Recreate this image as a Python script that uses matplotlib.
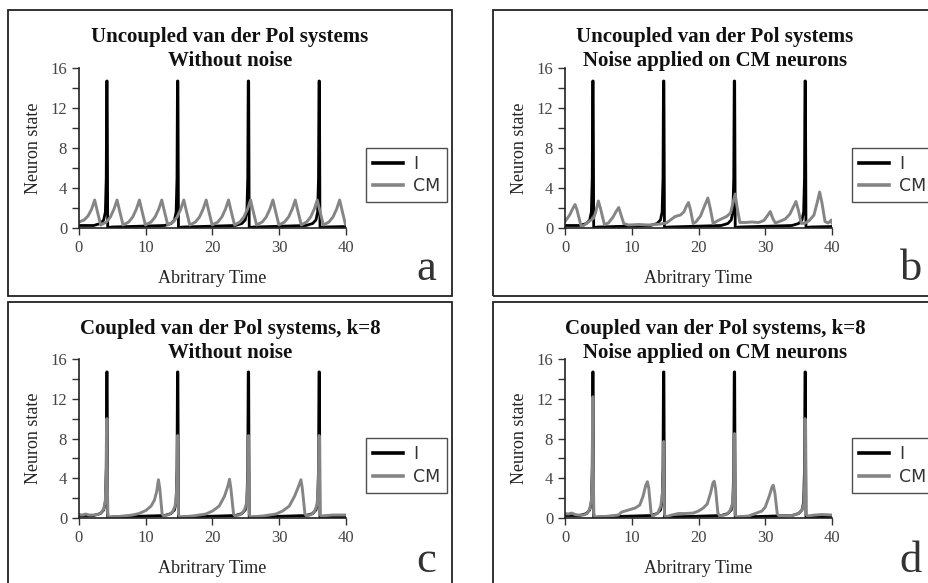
import matplotlib
matplotlib.use("Agg")
import matplotlib.pyplot as plt
from matplotlib.patches import Rectangle

# ---- data ----
# I neuron (same in every panel)
i_t = [0.0, 2.2, 3.2, 3.7, 3.95, 4.08, 4.15, 4.22, 4.3, 5.0,
       12.8, 13.8, 14.3, 14.55, 14.68, 14.75, 14.82, 14.9, 15.6,
       23.4, 24.4, 24.9, 25.15, 25.28, 25.35, 25.42, 25.5, 26.2,
       34.0, 35.0, 35.5, 35.75, 35.88, 35.95, 36.02, 36.1, 36.8, 40.0]
i_y = [0.25, 0.25, 0.45, 0.8, 1.6, 5.0, 14.7, 14.7, 0.05, 0.1,
       0.25, 0.45, 0.8, 1.6, 5.0, 14.7, 14.7, 0.05, 0.1,
       0.25, 0.45, 0.8, 1.6, 5.0, 14.7, 14.7, 0.05, 0.1,
       0.25, 0.45, 0.8, 1.6, 5.0, 14.7, 14.7, 0.05, 0.1, 0.15]

# CM, uncoupled, no noise
cm_a_t = [0.0, 0.75, 1.35, 1.9, 2.35, 2.7, 3.25,
          4.1, 4.7, 5.25, 5.7, 6.05, 6.6,
          7.45, 8.05, 8.6, 9.05, 9.4, 9.95,
          10.8, 11.4, 11.95, 12.4, 12.75, 13.3,
          14.1, 14.7, 15.25, 15.7, 16.05, 16.6,
          17.45, 18.05, 18.6, 19.05, 19.4, 19.95,
          20.8, 21.4, 21.95, 22.4, 22.75, 23.3,
          24.1, 24.7, 25.25, 25.7, 26.05, 26.6,
          27.45, 28.05, 28.6, 29.05, 29.4, 29.95,
          30.8, 31.4, 31.95, 32.4, 32.75, 33.3,
          34.1, 34.7, 35.25, 35.7, 36.05, 36.6,
          37.45, 38.05, 38.6, 39.05, 39.4, 39.9]
cm_a_y = [0.6, 0.8, 1.2, 1.9, 2.8, 1.8, 0.3,
          0.6, 1.1, 1.9, 2.8, 1.8, 0.3,
          0.6, 1.1, 1.9, 2.8, 1.8, 0.3,
          0.6, 1.1, 1.9, 2.8, 1.8, 0.3,
          0.6, 1.1, 1.9, 2.8, 1.8, 0.3,
          0.6, 1.1, 1.9, 2.8, 1.8, 0.3,
          0.6, 1.1, 1.9, 2.8, 1.8, 0.3,
          0.6, 1.1, 1.9, 2.8, 1.8, 0.3,
          0.6, 1.1, 1.9, 2.8, 1.8, 0.3,
          0.6, 1.1, 1.9, 2.8, 1.8, 0.3,
          0.6, 1.1, 1.9, 2.8, 1.8, 0.3,
          0.6, 1.1, 1.9, 2.8, 1.8, 0.4]

# CM, uncoupled, with noise
cm_b_t = [0.0, 0.7, 1.2, 1.5, 1.8, 2.4, 2.8, 3.3, 3.9, 4.3, 4.6, 5.0, 5.3, 5.9,
          6.5, 7.2, 7.7, 8.05, 8.35, 8.8, 9.5, 11.0, 12.5, 13.5, 14.3, 15.2,
          15.8, 16.5, 17.3, 17.8, 18.2, 18.5, 18.8, 19.2, 19.6, 20.3, 20.9,
          21.4, 21.75, 22.2, 22.8, 23.4, 24.2, 24.8, 25.2, 25.5, 25.8, 26.2,
          27.0, 28.0, 29.0, 29.8, 30.4, 30.75, 31.1, 31.5, 32.3, 33.0, 33.7,
          34.2, 34.6, 34.95, 35.4, 36.0, 36.6, 37.3, 37.8, 38.15, 38.5, 38.95,
          39.4, 39.7, 39.9, 40.0]
cm_b_y = [0.65, 1.3, 2.0, 2.35, 1.8, 0.2, 0.25, 0.5, 0.8, 1.0, 1.6, 2.7, 2.0, 0.35,
          0.5, 1.1, 1.7, 2.05, 1.4, 0.45, 0.3, 0.35, 0.3, 0.35, 0.4, 0.5,
          0.8, 1.15, 1.3, 1.6, 2.2, 2.55, 1.8, 0.45, 0.6, 1.2, 2.2,
          3.0, 2.0, 0.45, 0.7, 0.9, 1.15, 1.5, 2.6, 3.4, 2.0, 0.55,
          0.55, 0.6, 0.55, 0.75, 1.3, 1.65, 1.0, 0.5, 0.7, 0.9, 1.4,
          2.1, 2.65, 1.8, 0.45, 0.5, 0.75, 1.3, 2.6, 3.6, 2.5, 0.65,
          0.5, 0.65, 0.8, 0.5]

# CM, coupled k=8, no noise
cm_c_t = [0.0, 0.5, 1.0, 1.5, 2.0, 2.8, 3.3, 3.7, 3.95, 4.1, 4.18, 4.3, 4.45,
          6.0, 8.0, 9.0, 10.0, 10.8, 11.3, 11.65, 11.9, 12.1, 12.45, 12.7,
          13.5, 14.0, 14.4, 14.6, 14.7, 14.78, 14.9, 15.05,
          17.0, 19.0, 20.0, 21.0, 21.8, 22.3, 22.55, 22.75, 23.15, 23.4,
          24.2, 24.7, 25.05, 25.25, 25.38, 25.5, 25.65,
          27.5, 29.5, 30.5, 31.5, 32.3, 32.9, 33.25, 33.45, 33.85, 34.1,
          34.8, 35.3, 35.65, 35.85, 35.97, 36.1, 36.25, 38.0, 40.0]
cm_c_y = [0.35, 0.3, 0.4, 0.3, 0.3, 0.35, 0.5, 0.9, 1.8, 5.0, 10.0, 0.5, 0.1,
          0.15, 0.3, 0.45, 0.75, 1.2, 1.8, 2.7, 3.85, 3.0, 0.4, 0.2,
          0.35, 0.6, 1.2, 2.5, 5.0, 8.3, 0.4, 0.1,
          0.2, 0.4, 0.7, 1.2, 2.2, 3.2, 3.9, 3.0, 0.4, 0.2,
          0.35, 0.7, 1.3, 3.0, 8.3, 0.4, 0.1,
          0.2, 0.4, 0.7, 1.2, 2.2, 3.2, 3.85, 3.0, 0.4, 0.2,
          0.35, 0.7, 1.3, 3.0, 8.3, 0.4, 0.2, 0.3, 0.3]

# CM, coupled k=8, with noise
cm_d_t = [0.0, 0.5, 1.0, 1.5, 2.0, 2.8, 3.3, 3.7, 3.95, 4.08, 4.18, 4.3, 4.45,
          6.0, 8.0, 8.5, 9.5, 10.5, 11.2, 11.7, 12.1, 12.35, 12.55, 12.9, 13.2,
          13.9, 14.35, 14.6, 14.7, 14.78, 14.9, 15.05,
          16.0, 17.0, 18.0, 19.2, 20.0, 20.7, 21.3, 21.8, 22.15, 22.35, 22.55,
          22.9, 23.2, 24.2, 24.7, 25.05, 25.25, 25.38, 25.5, 25.65,
          27.5, 28.7, 29.5, 30.0, 30.6, 31.0, 31.2, 31.45, 31.8, 32.1,
          34.0, 35.0, 35.5, 35.8, 35.9, 35.97, 36.1, 36.3, 37.5, 38.5, 40.0]
cm_d_y = [0.45, 0.4, 0.5, 0.35, 0.3, 0.3, 0.45, 0.9, 1.8, 4.0, 12.2, 0.5, 0.1,
          0.15, 0.3, 0.6, 0.8, 1.0, 1.3, 2.2, 3.3, 3.65, 3.0, 0.5, 0.2,
          0.5, 1.2, 2.5, 4.5, 7.7, 0.4, 0.1,
          0.3, 0.45, 0.45, 0.5, 0.7, 1.0, 1.4, 2.5, 3.5, 3.7, 3.0,
          0.5, 0.2, 0.35, 0.7, 1.3, 3.0, 8.5, 0.4, 0.1,
          0.2, 0.5, 0.7, 1.1, 2.2, 3.1, 3.3, 2.5, 0.4, 0.2,
          0.25, 0.45, 0.8, 1.5, 3.5, 10.0, 0.4, 0.2, 0.3, 0.35, 0.3]

titles = [
    ("Uncoupled van der Pol systems", "Without noise"),
    ("Uncoupled van der Pol systems", "Noise applied on CM neurons"),
    ("Coupled van der Pol systems, k=8", "Without noise"),
    ("Coupled van der Pol systems, k=8", "Noise applied on CM neurons"),
]
letters = ["a", "b", "c", "d"]
cm_series = [(cm_a_t, cm_a_y), (cm_b_t, cm_b_y), (cm_c_t, cm_c_y), (cm_d_t, cm_d_y)]
x_ticks = [0, 10, 20, 30, 40]
y_ticks = [0, 4, 8, 12, 16]

W, H = 929, 583
SERIF = "Liberation Serif"
GRAY = "#858585"

fig = plt.figure(figsize=(W / 100, H / 100), dpi=100)


def fx(px):
    return px / W


def fy(py):
    return 1 - py / H


# pixel layout: (box left, box top, axes left, axes top (=16), axes bottom (=0))
layout = [
    (8, 10, 79, 68, 228),
    (493, 10, 565, 68, 228),
    (8, 302, 79, 359, 518),
    (493, 302, 565, 359, 518),
]

for k in range(4):
    bx, by, axl, axt, axb = layout[k]
    # panel frame
    fig.add_artist(Rectangle((fx(bx), fy(by + 286)), 444 / W, 286 / H,
                             transform=fig.transFigure, fill=False,
                             edgecolor="#222222", linewidth=1.3, clip_on=False))

    ax = fig.add_axes([fx(axl), fy(axb), 267 / W, (axb - axt) / H])
    ax.plot(i_t, i_y, color="black", lw=2.0, label="I")
    ax.plot(cm_series[k][0], cm_series[k][1], color=GRAY, lw=2.1, label="CM")

    ax.set_xlim(0, 40)
    ax.set_ylim(0, 16)
    ax.set_xticks(x_ticks)
    ax.set_yticks(y_ticks)
    ax.set_yticks([2, 6, 10, 14], minor=True)
    ax.spines["top"].set_visible(False)
    ax.spines["right"].set_visible(False)
    for s in ["left", "bottom"]:
        ax.spines[s].set_color("#222222")
        ax.spines[s].set_linewidth(1.2)
    ax.tick_params(which="both", length=5, width=1, color="#333333",
                   labelsize=12, labelcolor="#444444")
    for lab in ax.get_xticklabels() + ax.get_yticklabels():
        lab.set_family(SERIF)

    ax.set_ylabel("Neuron state", family=SERIF, fontsize=13, color="#222222")
    ax.set_xlabel("Abritrary Time", family=SERIF, fontsize=13, color="#222222")
    ax.yaxis.set_label_coords(-0.14, 0.5)
    ax.xaxis.set_label_coords(0.5, -0.265)

    leg = ax.legend(loc="lower left", bbox_to_anchor=(1.075, 0.16),
                    prop={"family": "DejaVu Sans", "size": 12.5},
                    frameon=True, fancybox=False, handlelength=1.75,
                    handletextpad=0.55, labelspacing=0.25, borderpad=0.4,
                    borderaxespad=0)
    leg.get_frame().set_edgecolor("#222222")
    leg.get_frame().set_linewidth(1.0)
    for line in leg.get_lines():
        line.set_linewidth(2.6)
    for t in leg.get_texts():
        t.set_color("#333333")

    # two-line bold title
    cx = bx + 222
    fig.text(fx(cx), fy(by + 32), titles[k][0], family=SERIF, weight="bold",
             fontsize=15, ha="center", va="baseline", color="#111111")
    fig.text(fx(cx), fy(by + 56), titles[k][1], family=SERIF, weight="bold",
             fontsize=15, ha="center", va="baseline", color="#111111")

    # panel letter
    fig.text(fx(bx + 418), fy(by + 270), letters[k], family=SERIF,
             fontsize=32, ha="center", va="baseline", color="#333333")

fig.savefig("out.png", dpi=100)
